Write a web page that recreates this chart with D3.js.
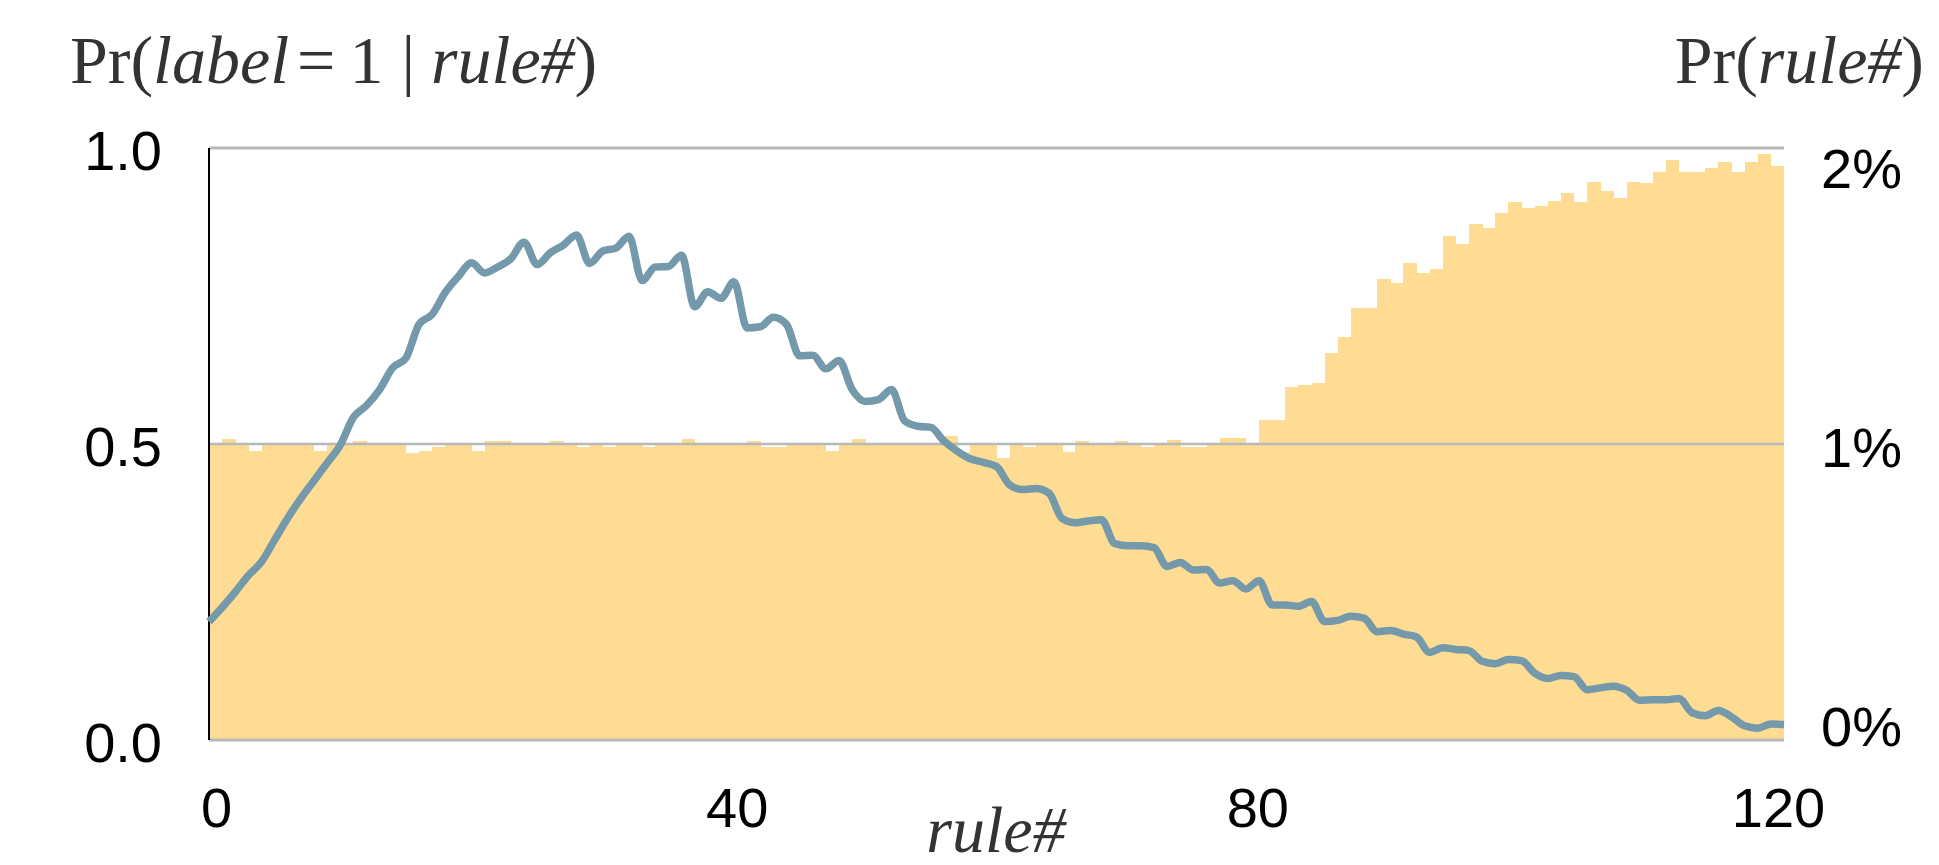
<!DOCTYPE html>
<html>
<head>
<meta charset="utf-8">
<script src="https://cdn.jsdelivr.net/npm/d3@7"></script>
<style>
  html, body { margin: 0; padding: 0; background: #fff; }
  svg { display: block; }
</style>
</head>
<body>
<svg id="chart" width="1939" height="865"></svg>
<script>
// ---------- DATA ----------
// Pr(rule#) in percent, one bar per rule (rule 0 .. 119)
const ruleShare = [
  1.00, 1.017, 1.00, 0.977, 1.00, 1.00, 1.00, 1.005, 0.977, 1.00,
  1.00, 1.009, 1.00, 1.005, 1.00, 0.97, 0.977, 0.99, 1.00, 1.00,
  0.977, 1.009, 1.009, 1.004, 1.004, 1.00, 1.009, 1.004, 0.99, 1.00,
  0.99, 1.00, 1.004, 0.99, 1.004, 1.00, 1.017, 1.004, 1.00, 1.00,
  1.00, 1.009, 0.99, 0.99, 1.00, 1.00, 1.00, 0.977, 1.00, 1.017,
  1.00, 1.004, 1.00, 1.00, 1.00, 1.00, 1.026, 0.972, 1.00, 1.00,
  0.953, 1.00, 0.99, 1.00, 1.00, 0.972, 1.011, 1.00, 1.005, 1.011,
  1.00, 0.99, 1.00, 1.012, 0.99, 0.99, 1.005, 1.02, 1.02, 0.995,
  1.08, 1.08, 1.194, 1.199, 1.207, 1.308, 1.361, 1.461, 1.461, 1.557,
  1.543, 1.611, 1.578, 1.592, 1.703, 1.676, 1.743, 1.730, 1.781, 1.816,
  1.796, 1.803, 1.822, 1.849, 1.816, 1.886, 1.854, 1.830, 1.886, 1.881,
  1.920, 1.959, 1.920, 1.920, 1.932, 1.953, 1.920, 1.953, 1.980, 1.939
];
// Pr(label = 1 | rule#), rule 0 .. 120
const labelProb = [
  0.200, 0.224, 0.250, 0.278, 0.301, 0.338, 0.375, 0.408, 0.438, 0.468,
  0.498, 0.545, 0.565, 0.592, 0.629, 0.645, 0.702, 0.719, 0.756, 0.783,
  0.806, 0.789, 0.799, 0.813, 0.841, 0.803, 0.823, 0.836, 0.853, 0.805,
  0.826, 0.831, 0.851, 0.776, 0.799, 0.800, 0.819, 0.732, 0.757, 0.746,
  0.774, 0.696, 0.698, 0.714, 0.702, 0.649, 0.650, 0.627, 0.641, 0.592,
  0.572, 0.575, 0.592, 0.539, 0.530, 0.528, 0.505, 0.488, 0.475, 0.469,
  0.462, 0.431, 0.423, 0.425, 0.417, 0.374, 0.367, 0.370, 0.372, 0.332,
  0.328, 0.328, 0.325, 0.293, 0.300, 0.287, 0.288, 0.265, 0.269, 0.255,
  0.269, 0.228, 0.228, 0.226, 0.234, 0.200, 0.202, 0.209, 0.206, 0.183,
  0.185, 0.179, 0.174, 0.148, 0.156, 0.153, 0.151, 0.133, 0.129, 0.136,
  0.134, 0.113, 0.104, 0.109, 0.107, 0.085, 0.088, 0.091, 0.084, 0.067,
  0.068, 0.068, 0.070, 0.046, 0.041, 0.050, 0.039, 0.024, 0.020, 0.027,
  0.026
];
const xTicks = [0, 40, 80, 120];
const leftTicks = [0, 0.5, 1.0];
const rightTicks = [0, 0.01, 0.02];

// ---------- LAYOUT ----------
const X0 = 209, X1 = 1784, Y0 = 740, Y1 = 148;
const svg = d3.select("#chart");

const x = d3.scaleLinear().domain([0, 120]).range([X0, X1]);
const y = d3.scaleLinear().domain([0, 1]).range([Y0, Y1]);
const yR = d3.scaleLinear().domain([0, 0.02]).range([Y0, Y1]);
// label placement scales (labels in the original sit slightly inward)
const xLab = d3.scaleLinear().domain([0, 120]).range([216, 1778]);
const yRLab = d3.scaleLinear().domain([0, 0.02]).range([725, 167]);

const sans = "'Liberation Sans', Arial, Helvetica, sans-serif";
const serif = "'Liberation Serif', 'Times New Roman', Times, serif";

// bars
svg.append("g").selectAll("rect")
  .data(ruleShare)
  .join("rect")
  .attr("x", (d, i) => x(i))
  .attr("width", (d, i) => x(i + 1) - x(i) + 0.4)
  .attr("y", d => yR(d / 100))
  .attr("height", d => Y0 - yR(d / 100))
  .attr("fill", "#fedc94")
  .attr("shape-rendering", "crispEdges");

// gridlines
svg.append("g").selectAll("line")
  .data(leftTicks)
  .join("line")
  .attr("x1", X0).attr("x2", X1)
  .attr("y1", d => y(d)).attr("y2", d => y(d))
  .attr("stroke", "#b8b8b8")
  .attr("stroke-width", d => d === 0.5 ? 2.5 : 3);

// left axis line
svg.append("line")
  .attr("x1", X0).attr("x2", X0).attr("y1", Y1).attr("y2", Y0)
  .attr("stroke", "#000").attr("stroke-width", 2);

// data line
const line = d3.line()
  .x((d, i) => x(i))
  .y(d => y(d))
  .curve(d3.curveMonotoneX);
svg.append("path")
  .datum(labelProb)
  .attr("d", line)
  .attr("fill", "none")
  .attr("stroke", "#7399aa")
  .attr("stroke-width", 7.5)
  .attr("stroke-linejoin", "round")
  .attr("stroke-linecap", "butt");

// left axis labels
const gL = svg.append("g").attr("transform", `translate(${X0},0)`)
  .call(d3.axisLeft(y).tickValues(leftTicks).tickFormat(d3.format(".1f")).tickSize(0).tickPadding(47));
gL.select(".domain").remove();
gL.selectAll("text").attr("font-family", sans).attr("font-size", 56).attr("fill", "#000").attr("dy", "0.38em");

// right axis labels
const gR = svg.append("g").attr("transform", `translate(${X1},0)`)
  .call(d3.axisRight(yRLab).tickValues(rightTicks).tickFormat(d3.format(".0%")).tickSize(0).tickPadding(37));
gR.select(".domain").remove();
gR.selectAll("text").attr("font-family", sans).attr("font-size", 56).attr("fill", "#000").attr("dy", "0.36em");

// x axis labels
const gX = svg.append("g").attr("transform", `translate(0,${Y0})`)
  .call(d3.axisBottom(xLab).tickValues(xTicks).tickFormat(d3.format("d")).tickSize(0).tickPadding(47));
gX.select(".domain").remove();
gX.selectAll("text").attr("font-family", sans).attr("font-size", 56).attr("fill", "#000");

// titles
const tL = svg.append("text").attr("x", 70).attr("y", 83)
  .attr("font-family", serif).attr("font-size", 68).attr("fill", "#333");
tL.append("tspan").text("Pr(");
tL.append("tspan").attr("font-style", "italic").text("label");
tL.append("tspan").attr("dx", 8).text("=");
tL.append("tspan").attr("dx", 14).text("1");
tL.append("tspan").attr("dx", 18).text("|");
tL.append("tspan").attr("dx", 16).attr("font-style", "italic").text("rule#");
tL.append("tspan").text(")");

const tR = svg.append("text").attr("x", 1924).attr("y", 83).attr("text-anchor", "end")
  .attr("font-family", serif).attr("font-size", 68).attr("fill", "#333");
tR.append("tspan").text("Pr(");
tR.append("tspan").attr("font-style", "italic").text("rule#");
tR.append("tspan").text(")");

svg.append("text").attr("x", 996).attr("y", 852).attr("text-anchor", "middle")
  .attr("font-family", serif).attr("font-size", 66).attr("font-style", "italic").attr("fill", "#333")
  .text("rule#");
</script>
</body>
</html>
